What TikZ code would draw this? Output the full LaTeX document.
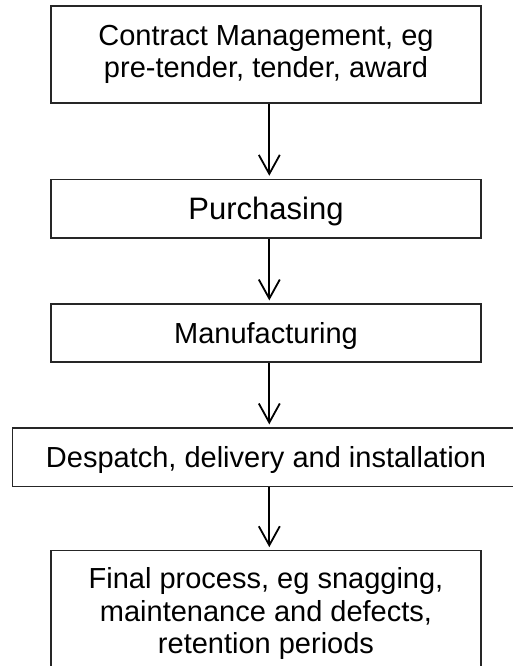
\documentclass[tikz,border=0pt]{standalone}
\usepackage{fontspec}
\setmainfont{Liberation Sans}
\usetikzlibrary{arrows.meta}

\begin{document}
\begin{tikzpicture}[x=1pt, y=-1pt,
        stage/.style={draw=black!85, line width=1.2pt, align=center, inner sep=0pt,
            minimum width=430pt, font=\fontsize{29}{32.5}\selectfont},
        oneline/.style={text depth=0pt},
        flow/.style={-{Straight Barb[length=19pt, width=21pt]}, line width=1.8pt, shorten >=3pt}]
        \useasboundingbox (0,0) rectangle (513,666);
        \node[stage, minimum height=97pt] (contract) at (266, 54.5) {Contract Management, eg\\pre-tender, tender, award};
        \node[stage, oneline, minimum height=58.7pt, font=\fontsize{31}{34}\selectfont] (purchasing) at (266, 208.7) {Purchasing};
        \node[stage, oneline, minimum height=58pt] (manufacturing) at (266, 333) {Manufacturing};
        \node[stage, oneline, minimum height=58.7pt, minimum width=506.6pt] (despatch) at (266, 457.3) {Despatch, delivery and installation};
        \node[stage, minimum height=126pt] (final) at (266, 613.7) {Final process, eg snagging,\\maintenance and defects,\\retention periods};
        \coordinate (axis) at (269.3, 0);
        \draw[flow] (contract.south -| axis) -- (purchasing.north -| axis);
        \draw[flow] (purchasing.south -| axis) -- (manufacturing.north -| axis);
        \draw[flow] (manufacturing.south -| axis) -- (despatch.north -| axis);
        \draw[flow] (despatch.south -| axis) -- (final.north -| axis);
\end{tikzpicture}
\end{document}
